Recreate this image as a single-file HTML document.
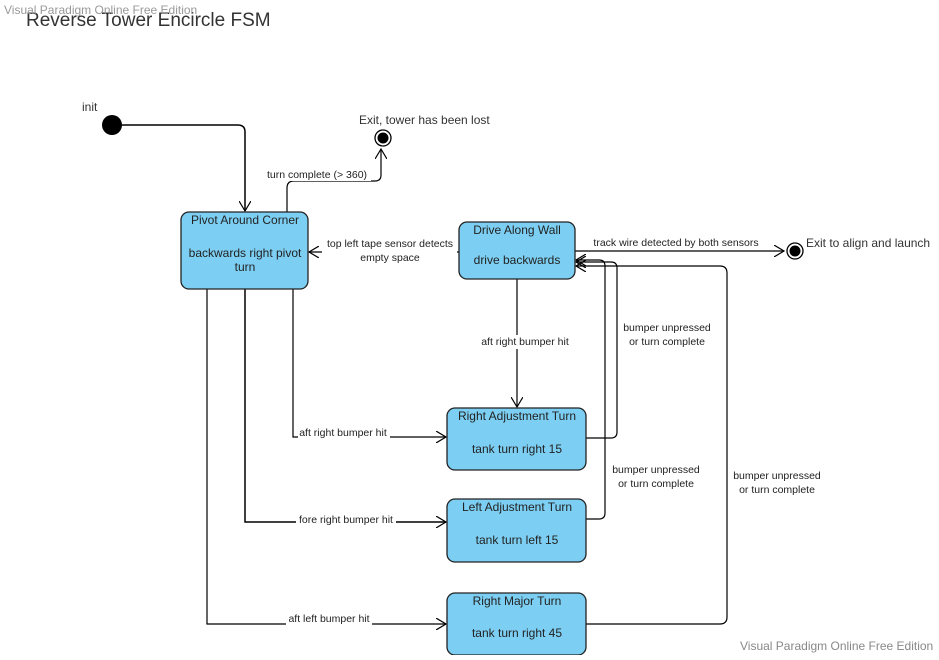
<!DOCTYPE html>
<html><head><style>
body{margin:0;width:939px;height:655px;background:#fff;overflow:hidden;font-family:"Liberation Sans",sans-serif;}
svg text{font-family:"Liberation Sans",sans-serif;}
</style></head><body>
<svg width="939" height="655" xmlns="http://www.w3.org/2000/svg">
<defs><marker id="a" markerWidth="12" markerHeight="12" refX="10" refY="6" orient="auto" markerUnits="userSpaceOnUse"><path d="M0,0 L10,6 L0,12" fill="none" stroke="#000" stroke-width="1.2"/></marker></defs>
<text x="26" y="26" font-size="19" fill="#333">Reverse Tower Encircle FSM</text>
<text x="4" y="14" font-size="12" fill="#999">Visual Paradigm Online Free Edition</text>
<text x="740" y="650" font-size="12" fill="#888">Visual Paradigm Online Free Edition</text>
<text x="82" y="111" font-size="12" fill="#333">init</text>
<circle cx="112" cy="125" r="10" fill="#000"/>
<text x="359" y="124" font-size="12" fill="#333">Exit, tower has been lost</text>
<circle cx="383" cy="138" r="8" fill="#fff" stroke="#000" stroke-width="1.3"/><circle cx="383" cy="138" r="5.5" fill="#000"/>
<text x="806" y="247" font-size="12" fill="#333">Exit to align and launch</text>
<circle cx="795" cy="251" r="8" fill="#fff" stroke="#000" stroke-width="1.3"/><circle cx="795" cy="251" r="5.5" fill="#000"/>
<g fill="none" stroke="#000" stroke-width="1.2">
<path d="M122,125 H238 Q245,125 245,132 V211" marker-end="url(#a)" stroke-width="1.5"/>
<path d="M287,212 V188 Q287,181 294,181 H375 Q381,181 381,175 V149" marker-end="url(#a)"/>
<path d="M459,252 H309" marker-end="url(#a)"/>
<path d="M575,251 H784" marker-end="url(#a)"/>
<path d="M517,279 V407" marker-end="url(#a)"/>
<path d="M293,289 V437 H446" marker-end="url(#a)"/>
<path d="M245,289 V522 H446" marker-end="url(#a)" stroke-width="1.5"/>
<path d="M207,289 V624 H446" marker-end="url(#a)"/>
<path d="M586,438 H611 Q617,438 617,432 V268 Q617,262 611,262 H576" marker-end="url(#a)"/>
<path d="M586,519 H599 Q605,519 605,513 V266 Q605,260 599,260 H576" marker-end="url(#a)"/>
<path d="M586,624 H720 Q727,624 727,617 V273 Q727,266 720,266 H576" marker-end="url(#a)"/>
</g>
<g font-size="10.5" fill="#222" text-anchor="middle">
<rect x="264" y="167" width="107" height="14" fill="#fff"/>
<text x="317" y="178">turn complete (&gt; 360)</text>
<rect x="322" y="237" width="135" height="28" fill="#fff"/>
<text x="390" y="247">top left tape sensor detects</text><text x="390" y="261">empty space</text>
<rect x="588" y="237" width="176" height="12" fill="#fff"/>
<text x="676" y="246">track wire detected by both sensors</text>
<rect x="477" y="335" width="95" height="14" fill="#fff"/>
<text x="525" y="345">aft right bumper hit</text>
<text x="667" y="331">bumper unpressed</text><text x="667" y="345">or turn complete</text>
<rect x="298" y="426" width="92" height="12" fill="#fff"/>
<text x="343" y="436">aft right bumper hit</text>
<text x="656" y="473">bumper unpressed</text><text x="656" y="487">or turn complete</text>
<text x="777" y="479">bumper unpressed</text><text x="777" y="493">or turn complete</text>
<rect x="296" y="513" width="100" height="13" fill="#fff"/>
<text x="346" y="523">fore right bumper hit</text>
<rect x="286" y="612" width="86" height="13" fill="#fff"/>
<text x="329" y="622">aft left bumper hit</text>
</g>
<g fill="#7ccff3" stroke="#222" stroke-width="1.3">
<rect x="181" y="212" width="127" height="77" rx="8"/>
<rect x="459" y="222" width="116" height="57" rx="8"/>
<rect x="447" y="408" width="139" height="62" rx="8"/>
<rect x="447" y="499" width="139" height="63" rx="8"/>
<rect x="447" y="593" width="139" height="62" rx="8"/>
</g>
<g font-size="12" fill="#222" text-anchor="middle">
<text x="245" y="224">Pivot Around Corner</text>
<text x="245" y="257">backwards right pivot</text><text x="245" y="271">turn</text>
<text x="517" y="234">Drive Along Wall</text><text x="517" y="264">drive backwards</text>
<text x="517" y="420">Right Adjustment Turn</text><text x="517" y="453">tank turn right 15</text>
<text x="517" y="511">Left Adjustment Turn</text><text x="517" y="544">tank turn left 15</text>
<text x="517" y="605">Right Major Turn</text><text x="517" y="637">tank turn right 45</text>
</g>
</svg>
</body></html>
